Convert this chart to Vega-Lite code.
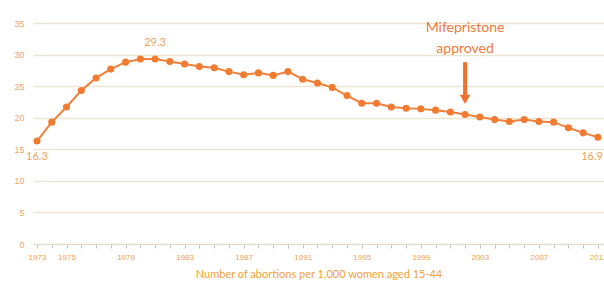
{
  "$schema": "https://vega.github.io/schema/vega-lite/v6.json",
  "autosize": "none",
  "width": 571,
  "height": 221,
  "padding": {"left": 33, "top": 23, "right": 0, "bottom": 47},
  "background": "white",
  "config": {
    "view": {"stroke": null},
    "font": "Liberation Sans"
  },
  "datasets": {
    "rates": [
      {"year": 1973, "rate": 16.3}, {"year": 1974, "rate": 19.3}, {"year": 1975, "rate": 21.7},
      {"year": 1976, "rate": 24.3}, {"year": 1977, "rate": 26.3}, {"year": 1978, "rate": 27.7},
      {"year": 1979, "rate": 28.8}, {"year": 1980, "rate": 29.3}, {"year": 1981, "rate": 29.3},
      {"year": 1982, "rate": 28.9}, {"year": 1983, "rate": 28.5}, {"year": 1984, "rate": 28.1},
      {"year": 1985, "rate": 27.9}, {"year": 1986, "rate": 27.3}, {"year": 1987, "rate": 26.8},
      {"year": 1988, "rate": 27.1}, {"year": 1989, "rate": 26.7}, {"year": 1990, "rate": 27.3},
      {"year": 1991, "rate": 26.1}, {"year": 1992, "rate": 25.5}, {"year": 1993, "rate": 24.8},
      {"year": 1994, "rate": 23.5}, {"year": 1995, "rate": 22.3}, {"year": 1996, "rate": 22.3},
      {"year": 1997, "rate": 21.7}, {"year": 1998, "rate": 21.5}, {"year": 1999, "rate": 21.4},
      {"year": 2000, "rate": 21.2}, {"year": 2001, "rate": 20.9}, {"year": 2002, "rate": 20.5},
      {"year": 2003, "rate": 20.1}, {"year": 2004, "rate": 19.7}, {"year": 2005, "rate": 19.4},
      {"year": 2006, "rate": 19.7}, {"year": 2007, "rate": 19.4}, {"year": 2008, "rate": 19.3},
      {"year": 2009, "rate": 18.4}, {"year": 2010, "rate": 17.6}, {"year": 2011, "rate": 16.9}
    ],
    "labels": [
      {"year": 1981, "rate": 29.3, "text": "29.3", "pos": "peak"},
      {"year": 1973, "rate": 16.3, "text": "16.3", "pos": "start"},
      {"year": 2011, "rate": 16.9, "text": "16.9", "pos": "end"}
    ],
    "note": [
      {"year": 2002, "top": 28.8, "bottom": 23.6, "head": 22.9, "textY": 34.2, "text": "Mifepristone approved"}
    ]
  },
  "layer": [
    {
      "data": {"name": "rates"},
      "mark": {"type": "line", "color": "#f2803c", "strokeWidth": 2},
      "encoding": {
        "x": {
          "field": "year", "type": "quantitative",
          "scale": {"domain": [1972.73, 2011.41], "nice": false, "zero": false},
          "axis": {
            "title": "Number of abortions per 1,000 women aged 15-44",
            "titleColor": "#f2a23a", "titleFont": "Lato", "titleFontSize": 11, "titleFontWeight": "normal",
            "titlePadding": 7,
            "tickCount": 200,
            "values": [1973,1974,1975,1976,1977,1978,1979,1980,1981,1982,1983,1984,1985,1986,1987,1988,1989,1990,1991,1992,1993,1994,1995,1996,1997,1998,1999,2000,2001,2002,2003,2004,2005,2006,2007,2008,2009,2010,2011],
            "format": "d",
            "labelExpr": "indexof([1973,1975,1979,1983,1987,1991,1995,1999,2003,2007,2011], datum.value) >= 0 ? datum.label : ''",
            "labelOverlap": false, "labelFlush": false, "labelBound": false,
            "labelColor": "#f0a24e", "labelFontSize": 8, "labelPadding": 5,
            "tickSize": 4, "tickColor": "#c8c4b8", "domainColor": "#dedad0", "grid": false
          }
        },
        "y": {
          "field": "rate", "type": "quantitative",
          "scale": {"domain": [0, 35], "nice": false},
          "axis": {
            "title": null, "values": [0, 5, 10, 15, 20, 25, 30, 35], "tickCount": 50, "format": "d",
            "labelOverlap": false,
            "labelColor": "#eda569", "labelFontSize": 9, "labelPadding": 9,
            "tickSize": 0, "domain": false,
            "gridColor": "#ebe6d4", "gridWidth": 1.5
          }
        }
      }
    },
    {
      "data": {"name": "rates"},
      "mark": {"type": "point", "filled": true, "color": "#f27b32", "size": 50, "opacity": 1},
      "encoding": {
        "x": {"field": "year", "type": "quantitative"},
        "y": {"field": "rate", "type": "quantitative"}
      }
    },
    {
      "data": {"name": "labels"},
      "transform": [{"filter": "datum.pos == 'peak'"}],
      "mark": {"type": "text", "color": "#eba45e", "fontSize": 11, "dy": -16, "font": "Lato"},
      "encoding": {
        "x": {"field": "year", "type": "quantitative"},
        "y": {"field": "rate", "type": "quantitative"},
        "text": {"field": "text"}
      }
    },
    {
      "data": {"name": "labels"},
      "transform": [{"filter": "datum.pos == 'start'"}],
      "mark": {"type": "text", "color": "#eba45e", "fontSize": 11, "dy": 16, "font": "Lato"},
      "encoding": {
        "x": {"field": "year", "type": "quantitative"},
        "y": {"field": "rate", "type": "quantitative"},
        "text": {"field": "text"}
      }
    },
    {
      "data": {"name": "labels"},
      "transform": [{"filter": "datum.pos == 'end'"}],
      "mark": {"type": "text", "color": "#eba45e", "fontSize": 11, "dy": 20, "dx": 5, "align": "right", "font": "Lato"},
      "encoding": {
        "x": {"field": "year", "type": "quantitative"},
        "y": {"field": "rate", "type": "quantitative"},
        "text": {"field": "text"}
      }
    },
    {
      "data": {"name": "note"},
      "mark": {"type": "rule", "color": "#f0702e", "strokeWidth": 4},
      "encoding": {
        "x": {"field": "year", "type": "quantitative"},
        "y": {"field": "top", "type": "quantitative"},
        "y2": {"field": "bottom"}
      }
    },
    {
      "data": {"name": "note"},
      "mark": {"type": "point", "shape": "triangle-down", "filled": true, "color": "#f0702e", "size": 110, "opacity": 1},
      "encoding": {
        "x": {"field": "year", "type": "quantitative"},
        "y": {"field": "head", "type": "quantitative"}
      }
    },
    {
      "data": {"name": "note"},
      "mark": {"type": "text", "color": "#f07a3a", "fontSize": 14, "font": "Lato", "lineBreak": " ", "lineHeight": 21, "baseline": "middle"},
      "encoding": {
        "x": {"field": "year", "type": "quantitative"},
        "y": {"field": "textY", "type": "quantitative"},
        "text": {"field": "text"}
      }
    }
  ]
}
